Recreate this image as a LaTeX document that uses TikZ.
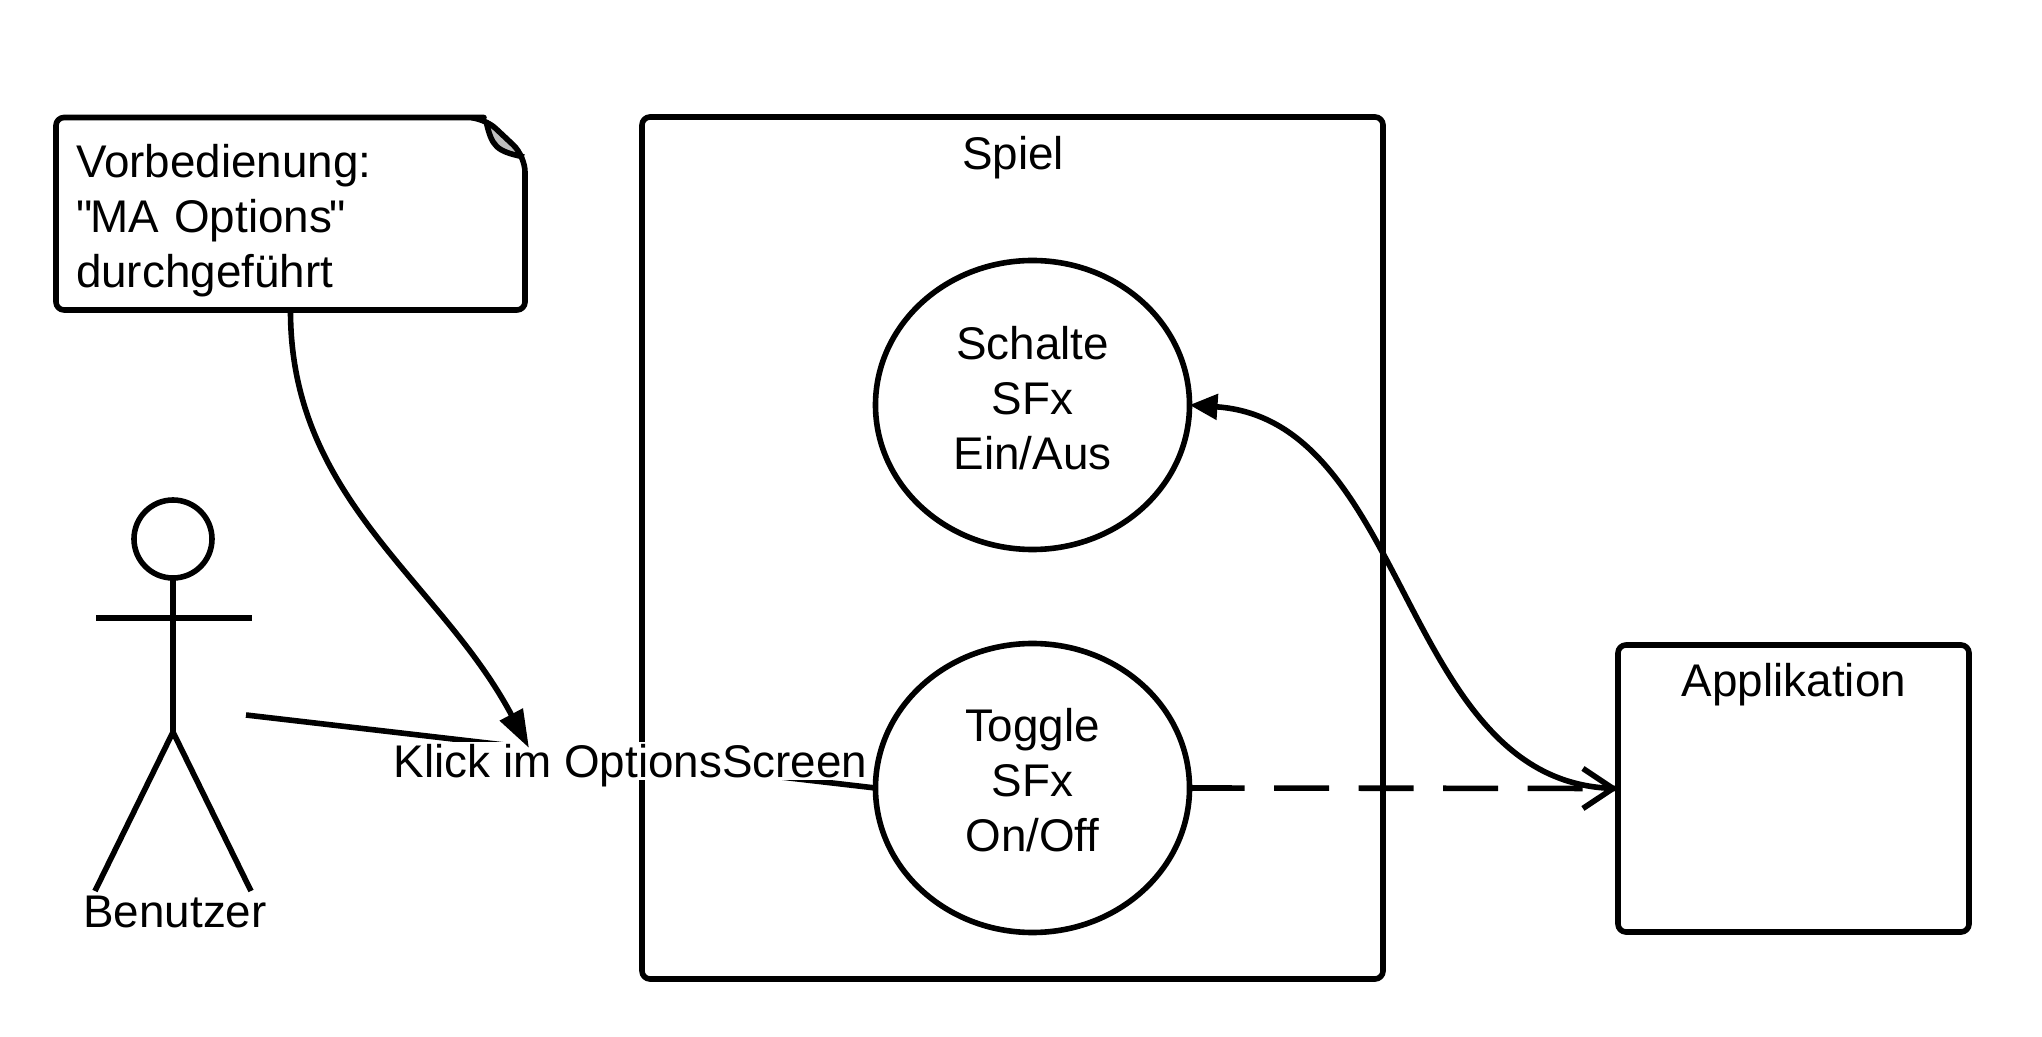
\documentclass[tikz,border=0pt]{standalone}
\usepackage{fontspec}
\newfontfamily\labelfont{Liberation Sans}
\usetikzlibrary{arrows.meta,shapes.geometric}
\tikzset{
	line/.style={line width=2.8pt,line join=round},
	box/.style={line,draw,rounded corners=4pt,inner sep=0pt,outer sep=0pt},
	usecase/.style={line,draw,fill=white,ellipse,inner sep=0pt,outer sep=0pt,minimum width=157pt,minimum height=144.5pt,align=center},
	plain/.style={inner sep=0pt,outer sep=0pt,align=center},
	filledtip/.style={{Triangle[length=14pt,width=12.5pt]}-},
	solidtip/.style={-{Triangle[length=19pt,width=12.5pt]}},
	opentip/.style={-{Straight Barb[length=15pt,width=20pt,line width=2.8pt]}},
}
\begin{document}
\begin{tikzpicture}[x=0.5pt,y=-0.5pt,font=\labelfont\fontsize{22.9}{27.5}\selectfont]
	\useasboundingbox (0,0) rectangle (2042,1037);
	% note with folded corner
	\node[plain,minimum width=234.5pt,minimum height=96pt,text width=213.5pt,align=left] (note) at (289.5,221) {Vorbedienung:\\"\kern-1pt MA Options\kern-1.5pt"\\durchgeführt};
	\coordinate (notetop) at (56,117.5);
	\coordinate (noteright) at (525,310);
	\coordinate (notebottom) at (290.5,310);
	\fill[gray!50] (486,120) .. controls (492,147) and (496,151) .. (524,157) -- cycle;
	\draw[line,rounded corners=4pt] (notetop) -- (476,117.5) [rounded corners=8pt] -- (484,117.5) -- (525,156) [rounded corners=4pt] -- (noteright) -- (56,310) -- cycle;
	\draw[line] (486,121) .. controls (492,147) and (496,151) .. (524,157);
	% frame and use cases
	\node[box,minimum width=370.5pt,minimum height=431pt] (spiel) at (1012.5,548) {};
	\node[plain,anchor=base] (spieltext) at (1013,170) {Spiel};
	\node[usecase] (schalte) at (1032.5,405) {\raisebox{0.65pt}[\height][\depth]{\begin{tabular}{@{}c@{}}Schalte\\SFx\\Ein/Aus\end{tabular}}};
	\node[usecase] (toggle) at (1032.5,788) {\raisebox{1.3pt}[\height][\depth]{\begin{tabular}{@{}c@{}}Toggle\\SFx\\On/Off\end{tabular}}};
	\node[box,minimum width=175.5pt,minimum height=143.5pt] (app) at (1793.5,788.5) {};
	\node[plain,anchor=base] (apptext) at (1794,697) {Applikation};
	% actor
	\node[line,draw,circle,minimum size=39pt,inner sep=0pt,outer sep=0pt] (head) at (173,539) {};
	\coordinate (hip) at (173,732);
	\coordinate (armleft) at (96,618);
	\coordinate (armright) at (252,618);
	\coordinate (legleft) at (95,891);
	\coordinate (legright) at (251,891);
	\draw[line] (head) -- (hip) -- (legleft);
	\draw[line] (hip) -- (legright);
	\draw[line] (armleft) -- (armright);
	\node[plain,anchor=base] (actortext) at (175,927) {Benutzer};
	% connectors
	\coordinate (actorhand) at (246,715);
	\coordinate (klicktop) at (529,748);
	\draw[line] (actorhand) -- (toggle.west);
	\node[plain,fill=white,anchor=base,text height=17.5pt,text depth=1.5pt] (klick) at (630.5,777) {Klick im OptionsScreen};
	\draw[line,solidtip] (notebottom) .. controls (290,500) and (440,580) .. (klicktop);
	\draw[line,filledtip] (schalte.east) .. controls (1412,420) and (1400,788) .. (app.west);
	\draw[line,opentip,dash pattern=on 27.5pt off 14.75pt] (toggle.east) -- (app.west);
\end{tikzpicture}
\end{document}
